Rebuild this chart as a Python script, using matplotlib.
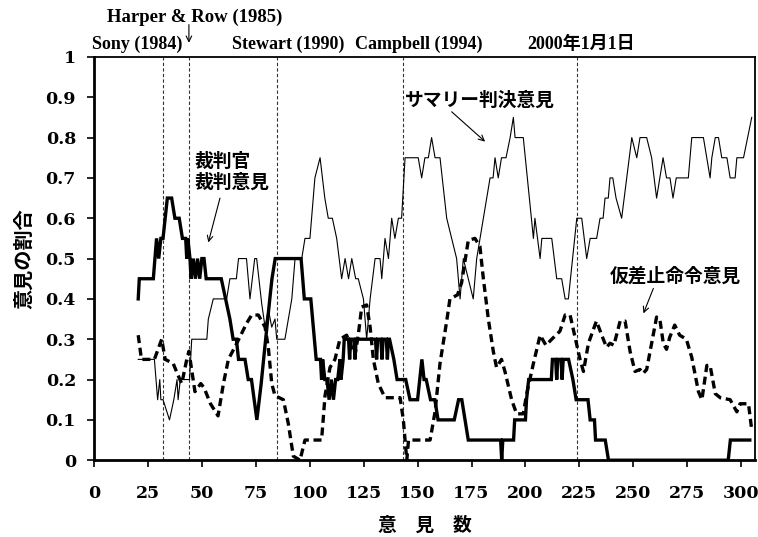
import matplotlib
matplotlib.use("Agg")
import matplotlib.pyplot as plt

# ===================================
# Data
# ===================================

# summary judgment opinions (thin line)
sj_x = [20.5, 28, 29.5, 30.5, 31, 32, 35, 37, 38.5, 39, 40, 44.3, 45.3, 52.3, 53, 55.3,
        61.5, 63, 66, 67, 70.7, 72.3, 74.5, 75.4, 77.7, 79.3, 80.8, 82.4, 83.9, 84.7,
        88.5, 90.1, 91.7, 93.2, 96.3, 97.8, 100.1, 102.4, 104.8, 107, 108.6, 110.5,
        112.5, 114.8, 116.4, 118, 119.5, 121.3, 122.5, 124.9, 126.4, 128, 130.3, 132.6,
        133.4, 134.9, 136.5, 138, 139.5, 141.1, 142.6, 144.2, 150.3, 151.9, 153.4, 155,
        156.5, 158.1, 160.4, 163.5, 168.1, 169.7, 171.2, 173.5, 175.8, 177.4, 180.5,
        183.6, 185, 185.9, 187.4, 188.9, 191, 192.9, 194.4, 195.2, 199, 203.7, 204.4,
        206.8, 207.6, 212.2, 214.5, 216.8, 218.4, 219.9, 223.8, 226.1, 228.4, 230, 233,
        234.6, 236, 236.9, 238.4, 239.2, 240.5, 242, 244.6, 249.3, 251.6, 253.1, 256.2,
        258.5, 260.8, 262.3, 263.8, 265.4, 267, 268.4, 269.9, 275.5, 277.1, 282.5, 285.6,
        286.4, 288, 289.5, 291, 293.4, 294.9, 297.2, 298, 301.1, 304.9]
sj_y = [0.25, 0.25, 0.15, 0.2, 0.15, 0.15, 0.1, 0.15, 0.2, 0.15, 0.2, 0.2, 0.3, 0.3, 0.35, 0.4,
        0.4, 0.45, 0.45, 0.5, 0.5, 0.4, 0.5, 0.5, 0.39, 0.33, 0.375, 0.33, 0.35, 0.3,
        0.3, 0.35, 0.4, 0.5, 0.5, 0.55, 0.55, 0.7, 0.75, 0.65, 0.6, 0.6,
        0.55, 0.45, 0.5, 0.45, 0.5, 0.45, 0.45, 0.4, 0.3, 0.4, 0.5, 0.5,
        0.45, 0.55, 0.5, 0.6, 0.55, 0.6, 0.6, 0.75, 0.75, 0.7, 0.75, 0.75,
        0.8, 0.75, 0.75, 0.6, 0.5, 0.4, 0.5, 0.45, 0.4, 0.5, 0.6,
        0.7, 0.7, 0.75, 0.7, 0.75, 0.75, 0.8, 0.85, 0.8, 0.8, 0.55, 0.6,
        0.5, 0.55, 0.55, 0.45, 0.45, 0.4, 0.4, 0.6, 0.6, 0.5, 0.55, 0.55,
        0.6, 0.6, 0.65, 0.65, 0.7, 0.7, 0.65, 0.6, 0.8, 0.75, 0.8, 0.8,
        0.75, 0.65, 0.7, 0.75, 0.7, 0.7, 0.65, 0.7, 0.7, 0.8, 0.8, 0.7,
        0.75, 0.8, 0.8, 0.75, 0.75, 0.7, 0.7, 0.75, 0.75, 0.85]

# bench trial opinions (thick line)
bt_x = [20.5, 21, 27.5, 29, 30, 31, 32, 34, 36, 37.5, 39.5, 41, 42.5, 43, 43.5, 44.5, 45,
        46, 47, 48, 49, 50, 51, 52, 59, 61, 63, 64.5, 66, 67, 70, 71.5, 73, 75.5, 77.5,
        79, 81.5, 82.5, 84, 96, 97.5, 100.5, 103, 105, 105.5, 106, 107, 108, 109, 110,
        111, 112, 113, 114, 114.5, 115.5, 116, 118, 118.5, 119, 120.5, 121, 121.5, 130.5,
        131, 131.5, 133, 133.5, 134, 135.5, 136, 136.5, 137, 139, 140.5, 144.5, 146.5,
        150, 152, 153, 154, 156, 158, 159.5, 167, 169, 170.5, 173.5, 188.5, 189, 189.5,
        194.5, 195, 200, 200.5, 201.5, 212, 212.5, 214, 214.5, 215, 216.5, 217, 217.5,
        220, 222, 223.5, 229, 230, 232, 232.5, 237, 238.5, 294, 295, 304]
bt_y = [0.4, 0.45, 0.45, 0.55, 0.5, 0.55, 0.55, 0.65, 0.65, 0.6, 0.6, 0.55, 0.55, 0.5, 0.55, 0.5, 0.45,
        0.5, 0.45, 0.5, 0.45, 0.5, 0.5, 0.45, 0.45, 0.4, 0.35, 0.3, 0.3, 0.25, 0.25, 0.2, 0.2, 0.1, 0.19,
        0.27, 0.4, 0.45, 0.5, 0.5, 0.4, 0.4, 0.25, 0.25, 0.2, 0.25, 0.2, 0.2, 0.15, 0.2,
        0.15, 0.2, 0.2, 0.25, 0.2, 0.25, 0.3, 0.3, 0.25, 0.3, 0.3, 0.25, 0.3, 0.3,
        0.25, 0.3, 0.3, 0.25, 0.3, 0.3, 0.25, 0.3, 0.3, 0.25, 0.2, 0.2, 0.15,
        0.15, 0.25, 0.2, 0.2, 0.15, 0.15, 0.1, 0.1, 0.15, 0.15, 0.05, 0.05, 0, 0.05,
        0.05, 0.1, 0.1, 0.15, 0.2, 0.2, 0.25, 0.25, 0.2, 0.25, 0.25, 0.2, 0.25,
        0.25, 0.2, 0.15, 0.15, 0.1, 0.1, 0.05, 0.05, 0, 0, 0.05, 0.05]

# preliminary injunction opinions (dashed line)
pi_x = [20.5, 22, 28, 31.4, 33, 36.7, 39, 40.7, 43, 44, 46.8, 49.5, 51, 54, 57.5, 60, 62.3,
        66.2, 70.8, 73.1, 76.2, 79.3, 80.8, 82.4, 83.9, 87.8, 90.1, 92.4, 95.5, 97.8, 105.5,
        107.1, 109.4, 111.7, 114, 117.1, 121, 122.5, 124.1, 126.4, 128, 129.5, 131.8, 134.9,
        141.9, 143.4, 145, 145.8, 155.8, 158.1, 160.4, 163.5, 165, 168.5, 170.4, 173.5,
        176.6, 178.9, 180.5, 182.8, 185.1, 186.6, 188.9, 190.5, 193.6, 195.9, 199, 200.6,
        203.7, 206.8, 209.5, 212.2, 216, 218.4, 220.7, 223, 225.3, 226.9, 229.2, 232.9,
        236.1, 237.6, 239.2, 241, 243.9, 246.2, 248.5, 250.8, 253.1, 254.5, 256.2, 258.5,
        260.8, 262.3, 263.9, 265.4, 266.9, 269.2, 271.5, 274.6, 277.1, 280.2, 281.8, 284.1,
        285.6, 288, 290.3, 294.9, 298, 299.5, 303.4, 304.9]
pi_y = [0.31, 0.25, 0.25, 0.3, 0.25, 0.24, 0.21, 0.19, 0.25, 0.27, 0.17, 0.19, 0.18, 0.14, 0.11, 0.19, 0.25,
        0.29, 0.34, 0.36, 0.36, 0.33, 0.28, 0.19, 0.16, 0.15, 0.09, 0.01, 0, 0.05, 0.05,
        0.16, 0.23, 0.25, 0.3, 0.31, 0.26, 0.31, 0.38, 0.385, 0.33, 0.25, 0.19, 0.155,
        0.155, 0.1, 0, 0.05, 0.05, 0.12, 0.24, 0.345, 0.4, 0.41, 0.44, 0.545,
        0.55, 0.53, 0.45, 0.35, 0.27, 0.23, 0.25, 0.22, 0.15, 0.115, 0.115, 0.165,
        0.24, 0.31, 0.285, 0.3, 0.32, 0.36, 0.36, 0.305, 0.25, 0.22, 0.29, 0.345,
        0.3, 0.28, 0.29, 0.285, 0.345, 0.345, 0.27, 0.22, 0.225, 0.215, 0.225, 0.29,
        0.355, 0.35, 0.29, 0.275, 0.305, 0.335, 0.31, 0.3, 0.255, 0.17, 0.15, 0.235,
        0.235, 0.165, 0.155, 0.15, 0.12, 0.14, 0.14, 0.075]

# landmark cases / dates
event_x = [31.8, 44, 84.7, 143.4, 224]

x_ticks = [0, 25, 50, 75, 100, 125, 150, 175, 200, 225, 250, 275, 300]
y_ticks = [0, 0.1, 0.2, 0.3, 0.4, 0.5, 0.6, 0.7, 0.8, 0.9, 1]
y_tick_labels = ["0", "0.1", "0.2", "0.3", "0.4", "0.5", "0.6", "0.7", "0.8", "0.9", "1"]

# ===================================
# Plot
# ===================================

JP = "Noto Sans CJK JP"
SERIF = ["Liberation Serif", "Noto Sans CJK JP"]

fig = plt.figure(figsize=(7.58, 5.37), dpi=100)
ax = fig.add_axes([0.124, 0.143, 0.872, 0.751])

for ex in event_x:
    ax.axvline(ex, color="#333333", lw=0.8, linestyle=(0, (3, 2)), zorder=1)

ax.plot(sj_x, sj_y, color="black", lw=0.8, zorder=3)
ax.plot(bt_x, bt_y, color="black", lw=2.4, solid_joinstyle="miter", zorder=4)
ax.plot(pi_x, pi_y, color="black", lw=2.4, linestyle=(0, (2.4, 1.4)), zorder=3)

ax.set_xlim(0, 306.4)
ax.set_ylim(0, 1)
ax.set_xticks(x_ticks)
ax.set_yticks(y_ticks)
ax.set_yticklabels(y_tick_labels)

for lbl in ax.get_xticklabels() + ax.get_yticklabels():
    lbl.set_fontfamily("DejaVu Serif")
    lbl.set_fontweight("bold")
    lbl.set_fontsize(12.5)

ax.tick_params(axis="x", direction="out", length=5, width=1.2, pad=13)
ax.tick_params(axis="y", direction="out", length=5, width=1.2, pad=8)

for side in ["left", "bottom"]:
    ax.spines[side].set_linewidth(2)
for side in ["top", "right"]:
    ax.spines[side].set_linewidth(1.3)

ax.set_xlabel("意　見　数", fontfamily=JP, fontweight="bold", fontsize=13.5, labelpad=10)
ax.set_ylabel("意見の割合", fontfamily=JP, fontweight="bold", fontsize=14.5, labelpad=8)

# top labels for the landmark cases
top_y = 1.03
ax.text(-1, top_y, "Sony (1984)", family=SERIF, fontweight="bold", fontsize=13,
        ha="left", va="center", clip_on=False)
ax.text(64, top_y, "Stewart (1990)", family=SERIF, fontweight="bold", fontsize=13,
        ha="left", va="center", clip_on=False)
ax.text(121, top_y, "Campbell (1994)", family=SERIF, fontweight="bold", fontsize=13,
        ha="left", va="center", clip_on=False)
ax.text(200.7, top_y, "2000年1月1日", family=SERIF, fontweight="bold", fontsize=13,
        ha="left", va="center", clip_on=False)
ax.text(46.8, 1.097, "Harper & Row (1985)", family=SERIF, fontweight="bold", fontsize=13.5,
        ha="center", va="center", clip_on=False)
ax.annotate("", xy=(44, 1.035), xytext=(44, 1.08), annotation_clip=False,
            arrowprops=dict(arrowstyle="->", lw=0.8, color="black",
                            shrinkA=0, shrinkB=0))

# series labels
arrow = dict(arrowstyle="->", lw=0.8, color="black", shrinkA=0, shrinkB=0)
ax.text(46.8, 0.715, "裁判官\n裁判意見", family=JP, fontweight="bold", fontsize=13.5,
        ha="left", va="center", linespacing=1.1)
ax.annotate("", xy=(53, 0.54), xytext=(58.4, 0.65), arrowprops=arrow)

ax.text(144.2, 0.893, "サマリー判決意見", family=JP, fontweight="bold", fontsize=13.5,
        ha="left", va="center")
ax.annotate("", xy=(181.3, 0.79), xytext=(165.8, 0.864), arrowprops=arrow)

ax.text(239.2, 0.457, "仮差止命令意見", family=JP, fontweight="bold", fontsize=13.5,
        ha="left", va="center")
ax.annotate("", xy=(254.7, 0.364), xytext=(259.3, 0.426), arrowprops=arrow)

fig.savefig("out.png", dpi=100)
